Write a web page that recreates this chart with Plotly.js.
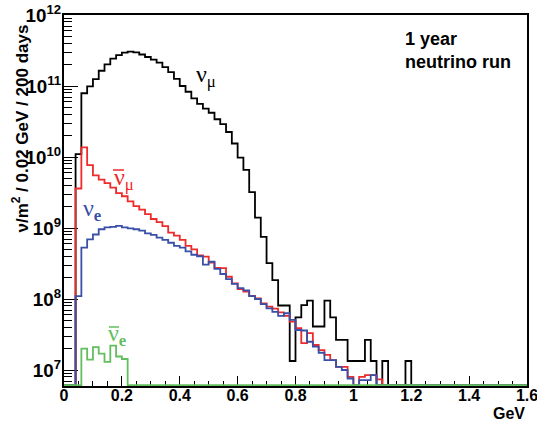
<!DOCTYPE html>
<html>
<head>
<meta charset="utf-8">
<script src="https://cdn.plot.ly/plotly-3.0.1.min.js"></script>
<style>html,body{margin:0;padding:0;background:#fff;}#chart{width:537px;height:427px;}</style>
</head>
<body>
<div id="chart"></div>
<script>
// Histogram binning (GeV)
const binWidth = 0.02;
const nBins = 80;

// nu_mu flux per bin (nu/m^2 / 0.02 GeV / 200 days)
const numu = [
  0, 0, 1.10e10, 7.9e10, 9.9e10, 1.25e11, 1.64e11, 2.02e11, 2.43e11, 2.73e11,
  2.96e11, 3.04e11, 2.98e11, 2.78e11, 2.56e11, 2.36e11, 2.14e11, 1.85e11, 1.57e11, 1.26e11,
  1.0e11, 8.3e10, 6.7e10, 5.6e10, 4.8e10, 4.2e10, 3.4e10, 2.9e10, 2.25e10, 1.55e10,
  9.8e9, 6.6e9, 3.2e9, 1.4e9, 7.5e8, 3.2e8, 1.85e8, 8.1e7, 8.1e7, 1.34e7,
  5.5e7, 8.2e7, 9.5e7, 4.1e7, 4.1e7, 9.5e7, 5.5e7, 2.65e7, 2.65e7, 1.34e7,
  1.34e7, 1.34e7, 2.65e7, 1.34e7, 0, 1.34e7, 0, 0, 0, 1.34e7,
  0, 0, 0, 0, 0, 0, 0, 0, 0, 0,
  0, 0, 0, 0, 0, 0, 0, 0, 0, 0
];
// anti nu_mu
const numubar = [
  0, 0, 3.6e9, 1.37e10, 7.7e9, 5.5e9, 4.8e9, 4.3e9, 3.7e9, 3.1e9,
  2.8e9, 2.38e9, 2.03e9, 1.82e9, 1.57e9, 1.34e9, 1.21e9, 1.06e9, 8.6e8, 7.8e8,
  6.8e8, 5.6e8, 5.0e8, 4.1e8, 3.95e8, 3.27e8, 2.74e8, 2.72e8, 2.06e8, 1.66e8,
  1.38e8, 1.27e8, 1.11e8, 1.02e8, 8.7e7, 7.8e7, 7.3e7, 6.5e7, 5.8e7, 4.8e7,
  3.9e7, 2.4e7, 3.3e7, 2.25e7, 1.91e7, 1.63e7, 1.38e7, 1.11e7, 1.11e7, 8.0e6,
  0, 8.0e6, 8.5e6, 8.5e6, 7.4e6, 0, 0, 0, 0, 0,
  0, 0, 0, 0, 0, 0, 0, 0, 0, 0,
  0, 0, 0, 0, 0, 0, 0, 0, 0, 0
];
// nu_e
const nue = [
  0, 0, 1.1e8, 5.3e8, 6.9e8, 8.1e8, 9.6e8, 1.02e9, 1.04e9, 1.07e9,
  1.02e9, 9.9e8, 9.6e8, 9.2e8, 8.4e8, 8.0e8, 7.3e8, 6.8e8, 6.2e8, 5.6e8,
  5.3e8, 4.7e8, 4.2e8, 4.0e8, 3.06e8, 3.35e8, 2.65e8, 2.25e8, 1.91e8, 1.63e8,
  1.42e8, 1.32e8, 1.1e8, 1.0e8, 8.5e7, 7.4e7, 6.6e7, 5.8e7, 6.3e7, 5.1e7,
  3.66e7, 3.6e7, 2.5e7, 2.13e7, 1.75e7, 1.38e7, 1.38e7, 1.11e7, 1.0e7, 7.6e6,
  0, 7.2e6, 7.2e6, 8.5e6, 0, 0, 0, 0, 0, 0,
  0, 0, 0, 0, 0, 0, 0, 0, 0, 0,
  0, 0, 0, 0, 0, 0, 0, 0, 0, 0
];
// anti nu_e
const nuebar = [
  0, 0, 0, 2.0e7, 1.4e7, 2.1e7, 1.7e7, 1.3e7, 2.2e7, 1.55e7,
  1.43e7, 0, 0, 0, 0, 0, 0, 0, 0, 0,
  0, 0, 0, 0, 0, 0, 0, 0, 0, 0,
  0, 0, 0, 0, 0, 0, 0, 0, 0, 0,
  0, 0, 0, 0, 0, 0, 0, 0, 0, 0,
  0, 0, 0, 0, 0, 0, 0, 0, 0, 0,
  0, 0, 0, 0, 0, 0, 0, 0, 0, 0,
  0, 0, 0, 0, 0, 0, 0, 0, 0, 0
];

// X tick labels
const xTickVals = [0, 0.2, 0.4, 0.6, 0.8, 1, 1.2, 1.4, 1.6];
const xTickText = ['0', '0.2', '0.4', '0.6', '0.8', '1', '1.2', '1.4', '1.6'];

const yLogMin = 6.775, yLogMax = 12;
const yFloor = Math.pow(10, yLogMin + 0.012); // empty bins drawn on the frame bottom (ROOT style)

function stepTrace(vals, color) {
  const x = [], y = [];
  for (let i = 0; i < nBins; i++) {
    x.push(+(i * binWidth).toFixed(4));
    y.push(vals[i] > 0 ? vals[i] : yFloor);
  }
  x.push(+(nBins * binWidth).toFixed(4));
  y.push(y[y.length - 1]);
  return {
    type: 'scatter', mode: 'lines', x: x, y: y,
    line: {shape: 'hv', color: color, width: 1.8},
    hoverinfo: 'skip', showlegend: false
  };
}

const BLACK = '#000000', RED = '#ee2a2a', BLUE = '#3a50a8', GREEN = '#62be5e';

const data = [
  stepTrace(numu, BLACK),
  stepTrace(numubar, RED),
  stepTrace(nue, BLUE),
  stepTrace(nuebar, GREEN)
];

// plot frame in pixels (for overlay positioning)
const L = 64, R = 527, T = 15, B = 386;
const px = v => (v - L) / (R - L);
const py = v => (B - v) / (B - T);

const tickFont = {family: 'Liberation Sans, Arial, sans-serif', size: 16, color: '#000', weight: 'bold'};
const yTickFont = {family: 'Liberation Sans, Arial, sans-serif', size: 15, color: '#000', weight: 'bold'};
const symFont = {family: 'Liberation Serif, serif', size: 24};

const layout = {
  width: 537, height: 427,
  margin: {l: 64, r: 10, t: 15, b: 41, pad: 0},
  paper_bgcolor: '#fff', plot_bgcolor: '#fff',
  showlegend: false,
  xaxis: {
    range: [0, 1.6], tickmode: 'array', tickvals: xTickVals, ticktext: xTickText,
    ticks: 'inside', ticklen: 10, tickwidth: 1, tickcolor: '#000',
    minor: {dtick: 0.05, tick0: 0, ticks: 'inside', ticklen: 5, tickwidth: 1, tickcolor: '#000', showgrid: false},
    showline: true, linewidth: 2, linecolor: '#000', mirror: true,
    showgrid: false, zeroline: false, tickfont: tickFont, layer: 'below traces',
    ticklabeloverflow: 'allow', ticklabelstandoff: -6
  },
  yaxis: {
    type: 'log', range: [yLogMin, yLogMax], dtick: 1, exponentformat: 'power',
    ticks: 'inside', ticklen: 14, tickwidth: 1, tickcolor: '#000',
    minor: {dtick: 'D1', ticks: 'inside', ticklen: 8, tickwidth: 1, tickcolor: '#000', showgrid: false},
    showline: true, linewidth: 2, linecolor: '#000', mirror: true,
    showgrid: false, zeroline: false, tickfont: yTickFont, layer: 'below traces',
    ticklabelstandoff: -2
  },
  shapes: [
    {type: 'line', xref: 'paper', yref: 'paper', x0: px(113), x1: px(124), y0: py(170), y1: py(170),
     line: {color: RED, width: 1.5}},
    {type: 'line', xref: 'paper', yref: 'paper', x0: px(109), x1: px(119), y0: py(327), y1: py(327),
     line: {color: GREEN, width: 1.5}}
  ],
  annotations: [
    {xref: 'paper', yref: 'paper', x: -0.094, y: 0.981, xanchor: 'center', yanchor: 'top',
     textangle: -90, showarrow: false,
     text: 'ν/m<sup>2</sup> / 0.02 GeV / 200 days',
     font: {family: 'Liberation Sans, Arial, sans-serif', size: 17, color: '#000', weight: 'bold'}},
    {xref: 'paper', yref: 'paper', x: 1, y: -0.073, xanchor: 'right', yanchor: 'middle',
     showarrow: false, text: 'GeV', font: tickFont},
    {xref: 'paper', yref: 'paper', x: px(403), y: py(27), xanchor: 'left', yanchor: 'top',
     align: 'left', showarrow: false, text: '1 year<br>neutrino run',
     font: {family: 'Liberation Sans, Arial, sans-serif', size: 18, color: '#000', weight: 'bold'}},
    {x: 0.448, y: 11.14, xanchor: 'left', yanchor: 'middle', showarrow: false,
     text: 'ν<sub>μ</sub>', font: Object.assign({color: BLACK}, symFont)},
    {x: 0.166, y: 9.695, xanchor: 'left', yanchor: 'middle', showarrow: false,
     text: 'ν<sub>μ</sub>', font: Object.assign({color: RED}, symFont)},
    {x: 0.059, y: 9.25, xanchor: 'left', yanchor: 'middle', showarrow: false,
     text: 'ν<sub><b>e</b></sub>', font: Object.assign({color: BLUE}, symFont)},
    {x: 0.145, y: 7.495, xanchor: 'left', yanchor: 'middle', showarrow: false,
     text: 'ν<sub><b>e</b></sub>', font: Object.assign({color: GREEN}, symFont)}
  ]
};

Plotly.newPlot('chart', data, layout, {staticPlot: true, displayModeBar: false});
</script>
</body>
</html>
